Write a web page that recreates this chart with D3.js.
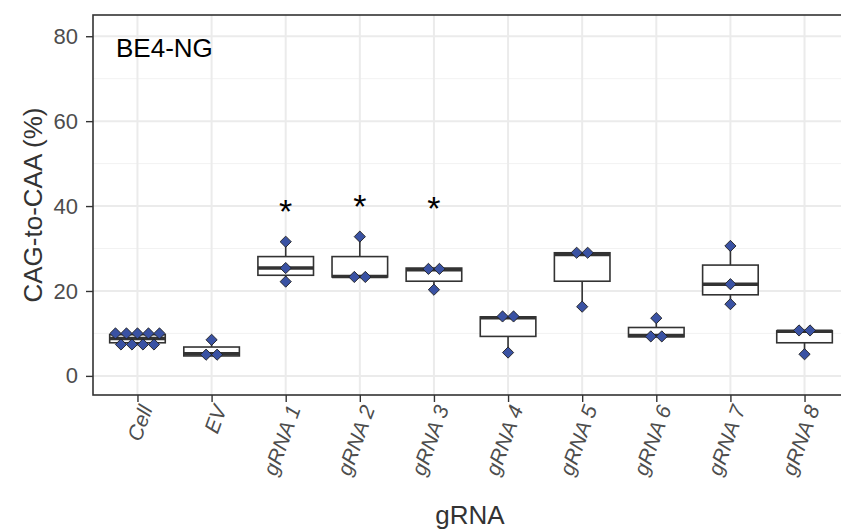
<!DOCTYPE html>
<html><head><meta charset="utf-8">
<script src="https://cdn.jsdelivr.net/npm/d3@7"></script>
<style>html,body{margin:0;padding:0;background:#fff;}svg{display:block;}</style>
</head><body>
<svg id="chart" width="841" height="531"></svg>
<script>
// ---- data ----
const categories = ["Cell","EV","gRNA 1","gRNA 2","gRNA 3","gRNA 4","gRNA 5","gRNA 6","gRNA 7","gRNA 8"];
// displayed (stacked) point values per category
const pointValues = [
  [10.0,10.0,10.0,10.0,10.0,7.4,7.4,7.4,7.4],
  [8.5,5.0,5.0],
  [31.6,25.4,22.2],
  [32.8,23.3,23.3],
  [25.2,25.2,20.3],
  [14.0,14.0,5.5],
  [29.0,29.0,16.3],
  [13.6,9.3,9.3],
  [30.6,21.6,16.9],
  [10.7,10.7,5.1]
];
// box statistics
const whiskerLow  = [7.2, 4.7, 22.2, 23.2, 20.3, 5.5, 16.3, 9.1, 16.9, 5.1];
const q1          = [7.8, 4.7, 23.7, 23.3, 22.3, 9.3, 22.3, 9.2, 19.1, 7.8];
const median      = [8.8, 5.2, 25.4, 23.4, 25.0, 13.7, 28.6, 9.5, 21.6, 10.5];
const q3          = [9.7, 6.8, 28.1, 28.1, 25.4, 13.9, 29.0, 11.4, 26.1, 10.6];
const whiskerHigh = [10.3, 8.5, 31.6, 32.8, 25.4, 14.0, 29.2, 13.6, 30.6, 10.8];
// significance labels
const sigCategories = ["gRNA 1","gRNA 2","gRNA 3"];
const sigValues = [38.8, 40.1, 39.5];
const sigLabels = ["*","*","*"];
const yTicks = [0,20,40,60,80];
const yMinor = [10,30,50,70];
const panelLabel = "BE4-NG";
const xTitle = "gRNA";
const yTitle = "CAG-to-CAA (%)";

// ---- layout ----
const svg = d3.select("#chart");
const L = 93, R = 849, T = 15, B = 395;
const x = d3.scalePoint().domain(categories).range([L, R]).padding(0.6);
const y = d3.scaleLinear().domain([-4.5, 85]).range([B, T]);
const step = x.step();
const boxW = step * 0.75;
const font = "'Liberation Sans', Arial, sans-serif";

const g = svg.append("g");
// grid
g.append("g").selectAll("line").data(yMinor).join("line")
  .attr("x1", L).attr("x2", R).attr("y1", d => y(d)).attr("y2", d => y(d))
  .attr("stroke", "#F2F2F2").attr("stroke-width", 1);
g.append("g").selectAll("line").data(yTicks).join("line")
  .attr("x1", L).attr("x2", R).attr("y1", d => y(d)).attr("y2", d => y(d))
  .attr("stroke", "#EBEBEB").attr("stroke-width", 2);
g.append("g").selectAll("line").data(categories).join("line")
  .attr("x1", d => x(d)).attr("x2", d => x(d)).attr("y1", T).attr("y2", B)
  .attr("stroke", "#EBEBEB").attr("stroke-width", 2);

// boxes
const boxes = g.append("g").selectAll("g").data(categories).join("g");
boxes.append("line")
  .attr("x1", d => x(d)).attr("x2", d => x(d))
  .attr("y1", (d,i) => y(whiskerLow[i])).attr("y2", (d,i) => y(whiskerHigh[i]))
  .attr("stroke", "#333333").attr("stroke-width", 1.6);
boxes.append("rect")
  .attr("x", d => x(d) - boxW/2).attr("width", boxW)
  .attr("y", (d,i) => y(q3[i])).attr("height", (d,i) => y(q1[i]) - y(q3[i]))
  .attr("fill", "#fff").attr("stroke", "#333333").attr("stroke-width", 1.6);
boxes.append("line")
  .attr("x1", d => x(d) - boxW/2).attr("x2", d => x(d) + boxW/2)
  .attr("y1", (d,i) => y(median[i])).attr("y2", (d,i) => y(median[i]))
  .attr("stroke", "#333333").attr("stroke-width", 3.5);

// points (dotplot-style stacking of equal values)
const dotStep = 11;
const pts = [];
categories.forEach((c, i) => {
  const groups = d3.group(pointValues[i], v => v);
  groups.forEach((arr, v) => {
    const n = arr.length;
    arr.forEach((_, k) => pts.push({c, v, off: (k - (n-1)/2) * dotStep}));
  });
});
const r = 5.6;
g.append("g").selectAll("path").data(pts).join("path")
  .attr("d", d => {
    const cx = x(d.c) + d.off, cy = y(d.v);
    return `M${cx},${cy-r}L${cx+r},${cy}L${cx},${cy+r}L${cx-r},${cy}Z`;
  })
  .attr("fill", "#3A52A3").attr("stroke", "#1f1f1f").attr("stroke-width", 0.9);

// significance labels
g.append("g").selectAll("text").data(sigCategories).join("text")
  .attr("x", d => x(d)).attr("y", (d,i) => y(sigValues[i]))
  .attr("text-anchor", "middle").attr("dominant-baseline", "central")
  .attr("font-family", font).attr("font-size", 34).attr("fill", "#000")
  .text((d,i) => sigLabels[i]);

// panel label
g.append("text").attr("x", 116).attr("y", 57)
  .attr("font-family", font).attr("font-size", 26).attr("fill", "#000")
  .text(panelLabel);

// panel border
g.append("rect").attr("x", L).attr("y", T).attr("width", R - L).attr("height", B - T)
  .attr("fill", "none").attr("stroke", "#333333").attr("stroke-width", 1.6);

// axes
const yAxis = d3.axisLeft(y).tickValues(yTicks).tickSize(7).tickPadding(8);
const ya = g.append("g").attr("transform", `translate(${L},0)`).call(yAxis);
ya.select(".domain").remove();
ya.selectAll("line").attr("stroke", "#333333").attr("stroke-width", 1.4);
ya.selectAll("text").attr("font-family", font).attr("font-size", 22).attr("fill", "#4D4D4D");

const xAxis = d3.axisBottom(x).tickSize(7).tickPadding(4);
const xa = g.append("g").attr("transform", `translate(0,${B})`).call(xAxis);
xa.select(".domain").remove();
xa.selectAll("line").attr("stroke", "#333333").attr("stroke-width", 1.4);
xa.selectAll("text")
  .attr("font-family", font).attr("font-size", 21).attr("font-style", "italic").attr("fill", "#4D4D4D")
  .attr("text-anchor", "end").attr("dy", "0.35em")
  .attr("transform", "translate(8,11) rotate(-70)")
  .attr("y", 0).attr("x", 0);

// titles
svg.append("text").attr("x", 470).attr("y", 524)
  .attr("text-anchor", "middle").attr("font-family", font).attr("font-size", 26).attr("fill", "#333")
  .text(xTitle);
svg.append("text").attr("transform", `translate(42,${(T + B) / 2}) rotate(-90)`)
  .attr("text-anchor", "middle").attr("font-family", font).attr("font-size", 26).attr("fill", "#333")
  .text(yTitle);
</script>
</body></html>
